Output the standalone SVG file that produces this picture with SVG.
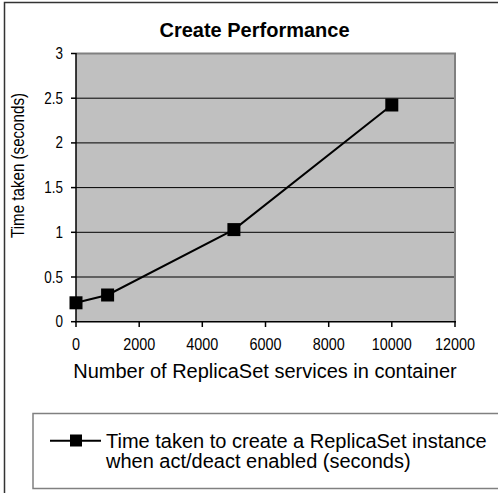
<svg xmlns="http://www.w3.org/2000/svg" width="498" height="493" viewBox="0 0 498 493">
  <style>
    text { font-family: "Liberation Sans", Arial, sans-serif; fill: #000; }
    .title { font-size: 20px; font-weight: bold; }
    .tick { font-size: 16px; }
    .axis-title { font-size: 20px; }
    .ytitle { font-size: 18px; }
    .legend-text { font-size: 20px; }
    .grid { stroke: #000; stroke-width: 1; }
    .frame { stroke: #808080; stroke-width: 2; fill: none; }
    .axis { stroke: #000; stroke-width: 1.5; }
    .series { stroke: #000; stroke-width: 2; fill: none; }
    .marker { fill: #000; }
  </style>
  <defs>
    <rect id="sq" x="-6.5" y="-6.5" width="13" height="13" class="marker"/>
  </defs>

  <!-- chart outline -->
  <g id="chart-frame">
    <path d="M4.5 498 V2.5 H500" fill="none" stroke="#333" stroke-width="1.5"/>
  </g>

  <g id="title">
    <text class="title" x="254.5" y="37" text-anchor="middle">Create Performance</text>
  </g>

  <!-- plot area with grid -->
  <g id="plot-area">
    <rect x="76" y="53.5" width="379" height="268.2" fill="#C0C0C0"/>
    <g class="grid">
      <line x1="76" y1="98.2" x2="455" y2="98.2"/>
      <line x1="76" y1="142.9" x2="455" y2="142.9"/>
      <line x1="76" y1="187.6" x2="455" y2="187.6"/>
      <line x1="76" y1="232.3" x2="455" y2="232.3"/>
      <line x1="76" y1="277" x2="455" y2="277"/>
    </g>
    <path class="frame" d="M76 53.5 H455 V321.7"/>
  </g>

  <!-- axes, ticks and tick labels -->
  <g id="y-axis">
    <line class="axis" x1="76" y1="53" x2="76" y2="322"/>
    <g class="axis">
      <line x1="71" y1="53.5" x2="76" y2="53.5"/>
      <line x1="71" y1="98.2" x2="76" y2="98.2"/>
      <line x1="71" y1="142.9" x2="76" y2="142.9"/>
      <line x1="71" y1="187.6" x2="76" y2="187.6"/>
      <line x1="71" y1="232.3" x2="76" y2="232.3"/>
      <line x1="71" y1="277" x2="76" y2="277"/>
      <line x1="71" y1="321.7" x2="76" y2="321.7"/>
    </g>
    <g text-anchor="end" lengthAdjust="spacingAndGlyphs">
      <text class="tick" x="63" y="59" textLength="7.5" lengthAdjust="spacingAndGlyphs">3</text>
      <text class="tick" x="63" y="103.7" textLength="18.7" lengthAdjust="spacingAndGlyphs">2.5</text>
      <text class="tick" x="63" y="148.4" textLength="7.5" lengthAdjust="spacingAndGlyphs">2</text>
      <text class="tick" x="63" y="193.1" textLength="18.7" lengthAdjust="spacingAndGlyphs">1.5</text>
      <text class="tick" x="63" y="237.8" textLength="7.5" lengthAdjust="spacingAndGlyphs">1</text>
      <text class="tick" x="63" y="282.5" textLength="18.7" lengthAdjust="spacingAndGlyphs">0.5</text>
      <text class="tick" x="63" y="327.2" textLength="7.5" lengthAdjust="spacingAndGlyphs">0</text>
    </g>
    <text class="ytitle" transform="translate(24 165.5) rotate(-90)" text-anchor="middle" textLength="145" lengthAdjust="spacingAndGlyphs">Time taken (seconds)</text>
  </g>

  <g id="x-axis">
    <line class="axis" x1="75" y1="321.7" x2="456" y2="321.7"/>
    <g class="axis">
      <line x1="76" y1="321.7" x2="76" y2="327"/>
      <line x1="139.2" y1="321.7" x2="139.2" y2="327"/>
      <line x1="202.3" y1="321.7" x2="202.3" y2="327"/>
      <line x1="265.5" y1="321.7" x2="265.5" y2="327"/>
      <line x1="328.7" y1="321.7" x2="328.7" y2="327"/>
      <line x1="391.8" y1="321.7" x2="391.8" y2="327"/>
      <line x1="455" y1="321.7" x2="455" y2="327"/>
    </g>
    <g text-anchor="middle">
      <text class="tick" x="76" y="350" textLength="8" lengthAdjust="spacingAndGlyphs">0</text>
      <text class="tick" x="139.2" y="350" textLength="32" lengthAdjust="spacingAndGlyphs">2000</text>
      <text class="tick" x="202.3" y="350" textLength="32" lengthAdjust="spacingAndGlyphs">4000</text>
      <text class="tick" x="265.5" y="350" textLength="32" lengthAdjust="spacingAndGlyphs">6000</text>
      <text class="tick" x="328.7" y="350" textLength="32" lengthAdjust="spacingAndGlyphs">8000</text>
      <text class="tick" x="391.8" y="350" textLength="40" lengthAdjust="spacingAndGlyphs">10000</text>
      <text class="tick" x="455" y="350" textLength="40" lengthAdjust="spacingAndGlyphs">12000</text>
    </g>
    <text class="axis-title" x="265" y="378" text-anchor="middle">Number of ReplicaSet services in container</text>
  </g>

  <!-- data series -->
  <g id="series">
    <polyline class="series" points="76,302.8 107.6,295 233.9,229.6 391.8,105"/>
    <use href="#sq" x="76" y="302.8"/>
    <use href="#sq" x="107.6" y="295"/>
    <use href="#sq" x="233.9" y="229.6"/>
    <use href="#sq" x="391.8" y="105"/>
  </g>

  <!-- legend -->
  <g id="legend">
    <rect x="33" y="413.5" width="480" height="75" fill="#fff" stroke="#808080" stroke-width="1.5"/>
    <line x1="50" y1="440.7" x2="101" y2="440.7" stroke="#000" stroke-width="2"/>
    <rect x="70" y="434.5" width="12" height="12" class="marker"/>
    <text class="legend-text" x="106" y="448">Time taken to create a ReplicaSet instance</text>
    <text class="legend-text" x="106" y="468">when act/deact enabled (seconds)</text>
  </g>
</svg>
